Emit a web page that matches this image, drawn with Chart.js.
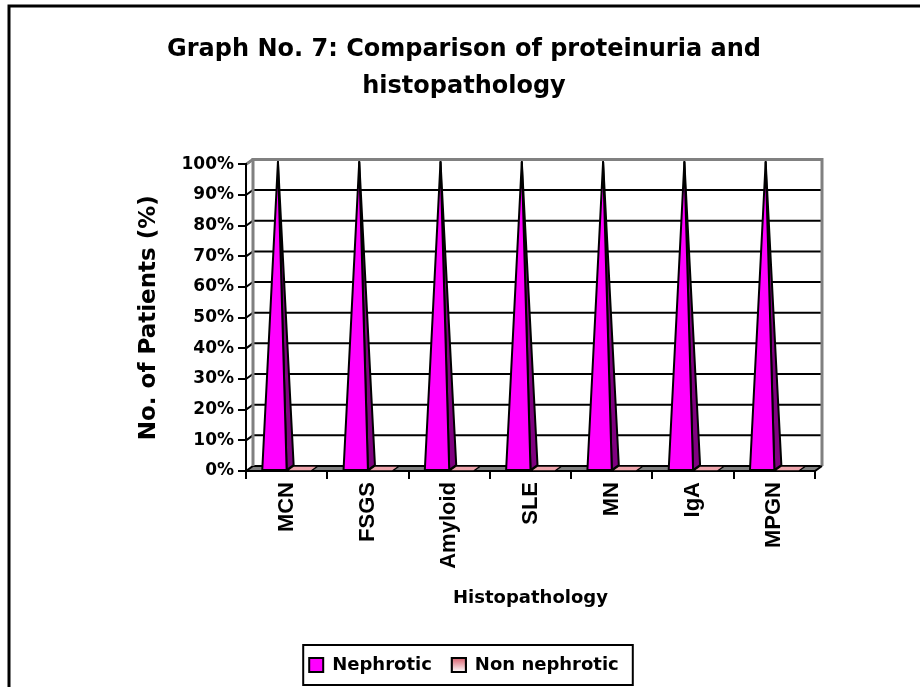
<!DOCTYPE html>
<html>
<head>
<meta charset="utf-8">
<title>Graph No. 7</title>
<script src="https://cdn.jsdelivr.net/npm/chart.js@4.4.1/dist/chart.umd.min.js"></script>
<style>
  html, body { margin: 0; padding: 0; background: #fff; }
</style>
</head>
<body>
<canvas id="graph" width="920" height="687"></canvas>
<script>
// Data
const categories = ['MCN', 'FSGS', 'Amyloid', 'SLE', 'MN', 'IgA', 'MPGN'];
const nephrotic = [100, 100, 100, 100, 100, 100, 100];
const nonNephrotic = [0, 0, 0, 0, 0, 0, 0];
const seriesNames = ['Nephrotic', 'Non nephrotic'];
const titleLines = ['Graph No. 7: Comparison of proteinuria and', 'histopathology'];

// 3D depth offset of the back wall
const DX = 7;
const DY = -5;

Chart.defaults.font.family = 'DejaVu Sans';
Chart.defaults.font.weight = 'bold';
Chart.defaults.color = '#000';

function quad(ctx, pts) {
    ctx.beginPath();
    ctx.moveTo(pts[0][0], pts[0][1]);
    for (let i = 1; i < pts.length; i++) ctx.lineTo(pts[i][0], pts[i][1]);
    ctx.closePath();
}

// walls, floor, gridlines, pyramids, legend frame
const pyramid3d = {
    id: 'pyramid3d',
    beforeDraw(chart) {
        const { ctx, chartArea: a, scales: { y } } = chart;
        ctx.save();
        ctx.fillStyle = '#fff';
        ctx.fillRect(0, 0, chart.width, chart.height);

        // floor
        ctx.fillStyle = '#808080';
        quad(ctx, [[a.left, a.bottom], [a.right, a.bottom], [a.right + DX, a.bottom + DY], [a.left + DX, a.bottom + DY]]);
        ctx.fill();

        // gridlines on the back wall
        ctx.strokeStyle = '#000';
        ctx.lineWidth = 2;
        y.ticks.forEach(t => {
            const py = y.getPixelForValue(t.value);
            ctx.beginPath();
            ctx.moveTo(a.left, py);
            ctx.lineTo(a.left + DX, py + DY);
            ctx.lineTo(a.right + DX, py + DY);
            ctx.stroke();
        });

        // wall edges
        ctx.strokeStyle = '#808080';
        ctx.lineWidth = 3;
        ctx.beginPath();
        ctx.moveTo(a.left + DX, a.bottom + DY);
        ctx.lineTo(a.left + DX, a.top + DY);
        ctx.lineTo(a.right + DX, a.top + DY);
        ctx.lineTo(a.right + DX, a.bottom + DY);
        ctx.stroke();
        ctx.beginPath();
        ctx.moveTo(a.left, a.top);
        ctx.lineTo(a.left + DX, a.top + DY);
        ctx.stroke();

        // floor front edges
        ctx.strokeStyle = '#000';
        ctx.lineWidth = 2;
        ctx.beginPath();
        ctx.moveTo(a.left, a.bottom);
        ctx.lineTo(a.right, a.bottom);
        ctx.lineTo(a.right + DX, a.bottom + DY);
        ctx.stroke();
        ctx.restore();
    },
    beforeDatasetsDraw(chart) {
        const { ctx } = chart;
        ctx.save();
        ctx.lineJoin = 'round';
        for (let i = chart.data.datasets.length - 1; i >= 0; i--) {
            const ds = chart.data.datasets[i];
            chart.getDatasetMeta(i).data.forEach(bar => {
                const x0 = bar.x - bar.width / 2;
                const x1 = bar.x + bar.width / 2;
                const b = bar.base;
                ctx.strokeStyle = '#000';
                if (Math.abs(b - bar.y) < 1) {
                    // zero value: flat base square
                    ctx.lineWidth = 1.5;
                    ctx.fillStyle = ds.flatColor;
                    quad(ctx, [[x0, b], [x1, b], [x1 + DX, b + DY], [x0 + DX, b + DY]]);
                    ctx.fill();
                    ctx.stroke();
                    return;
                }
                const apex = [bar.x + DX / 2, bar.y + DY / 2];
                ctx.lineWidth = 2;
                ctx.fillStyle = ds.sideColor;
                quad(ctx, [[x1, b], [x1 + DX, b + DY], apex]);
                ctx.fill();
                ctx.stroke();
                ctx.fillStyle = ds.backgroundColor;
                quad(ctx, [[x0, b], [x1, b], apex]);
                ctx.fill();
                ctx.stroke();
            });
        }
        ctx.restore();
        return false;
    },
    afterDraw(chart) {
        const { ctx, legend } = chart;
        const hb = legend.legendHitBoxes;
        ctx.save();
        ctx.strokeStyle = '#000';
        ctx.lineWidth = 2;
        // gradient swatch for Non nephrotic
        const s = hb[1];
        const g = ctx.createLinearGradient(0, s.top + 2, 0, s.top + 16);
        g.addColorStop(0, '#d9606e');
        g.addColorStop(1, '#ffffff');
        ctx.fillStyle = g;
        ctx.fillRect(s.left, s.top + 2, 14, 14);
        ctx.strokeRect(s.left, s.top + 2, 14, 14);
        // legend frame
        const last = hb[hb.length - 1];
        const l = hb[0].left - 6;
        const r = last.left + last.width + 14;
        const t = hb[0].top - 11;
        const bt = hb[0].top + hb[0].height + 11;
        ctx.strokeRect(l, t, r - l, bt - t);
        // outer chart frame
        ctx.lineWidth = 3;
        ctx.beginPath();
        ctx.moveTo(9, chart.height);
        ctx.lineTo(9, 6);
        ctx.lineTo(chart.width, 6);
        ctx.stroke();
        ctx.restore();
    }
};

const ctx = document.getElementById('graph').getContext('2d');

const chart = new Chart(ctx, {
    type: 'bar',
    data: {
        labels: categories,
        datasets: [
            {
                label: seriesNames[0],
                data: nephrotic,
                backgroundColor: '#ff00ff',
                sideColor: '#800080',
                flatColor: '#ff00ff',
                borderColor: '#000',
                borderWidth: 2,
                categoryPercentage: 0.6,
                barPercentage: 1.0,
            },
            {
                label: seriesNames[1],
                data: nonNephrotic,
                backgroundColor: '#f0a8b0',
                sideColor: '#a0505a',
                flatColor: '#eea4ac',
                borderColor: '#000',
                borderWidth: 2,
                categoryPercentage: 0.6,
                barPercentage: 1.0,
            },
        ],
    },
    options: {
        responsive: false,
        animation: false,
        devicePixelRatio: 1,
        layout: {
            padding: { left: 8, right: 0, top: 0, bottom: 3 },
        },
        plugins: {
            title: {
                display: true,
                text: titleLines,
                color: '#000',
                font: { size: 24, weight: 'bold', lineHeight: 1.55 },
                padding: { top: 31, bottom: 59 },
            },
            legend: {
                position: 'bottom',
                labels: {
                    font: { size: 18, weight: 'bold' },
                    boxWidth: 14,
                    boxHeight: 14,
                    padding: 20,
                    color: '#000',
                },
            },
            tooltip: { enabled: false },
        },
        scales: {
            x: {
                grid: {
                    drawOnChartArea: false,
                    drawTicks: true,
                    tickLength: 8,
                    color: '#000',
                    lineWidth: 2,
                },
                border: { display: true, color: '#000', width: 2 },
                ticks: {
                    autoSkip: false,
                    minRotation: 90,
                    maxRotation: 90,
                    padding: 3,
                    color: '#000',
                    font: { family: 'Liberation Sans', size: 22, weight: 'bold' },
                },
                title: {
                    display: true,
                    text: 'Histopathology',
                    color: '#000',
                    font: { size: 18, weight: 'bold' },
                    padding: { top: 0, bottom: 27 },
                },
                afterFit(scale) { scale.height = 165; },
            },
            y: {
                min: 0,
                max: 100,
                grid: {
                    drawOnChartArea: false,
                    drawTicks: true,
                    tickLength: 8,
                    color: '#000',
                    lineWidth: 2,
                },
                border: { display: true, color: '#000', width: 2 },
                ticks: {
                    stepSize: 10,
                    padding: 4,
                    color: '#000',
                    font: { size: 17, weight: 'bold' },
                    callback: v => v + '%',
                },
                title: {
                    display: true,
                    text: 'No. of Patients (%)',
                    color: '#000',
                    font: { size: 23, weight: 'bold' },
                    padding: { top: 127, bottom: 0 },
                },
                afterFit(scale) { scale.width = 238; },
            },
            // empty right-hand axis that only reserves space
            y2: {
                position: 'right',
                display: true,
                grid: { display: false },
                border: { display: false },
                ticks: { display: false },
                afterFit(scale) { scale.width = 105; },
            },
        },
    },
    plugins: [pyramid3d],
});
</script>
</body>
</html>
